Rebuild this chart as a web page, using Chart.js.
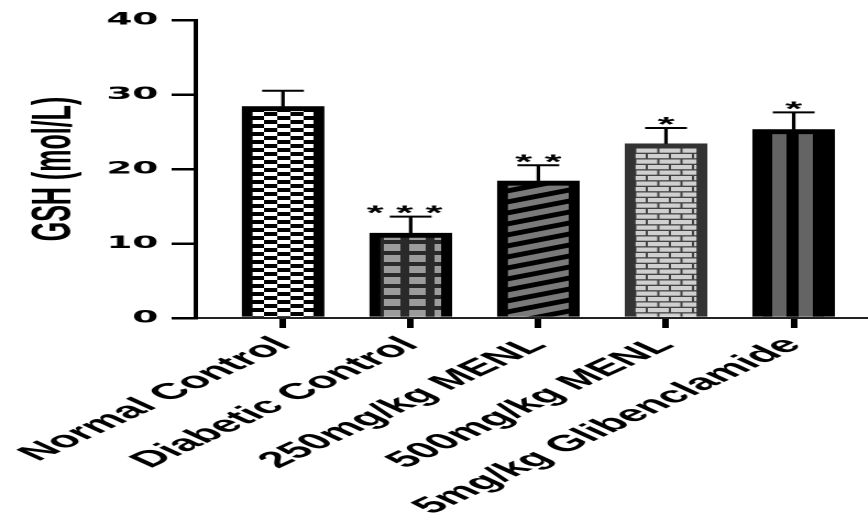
<!DOCTYPE html>
<html>
<head>
<meta charset="utf-8">
<script src="https://cdn.jsdelivr.net/npm/chart.js@4.4.1/dist/chart.umd.min.js"></script>
<style>
  html, body { margin: 0; padding: 0; background: #fff; overflow: hidden; }
  /* plot is laid out narrow, then widened */
  #wrap { width: 395px; height: 520px; transform: scaleX(2.2); transform-origin: 0 0; }
</style>
</head>
<body>
<div id="wrap"><canvas id="gsh"></canvas></div>
<script>
const groups = ['Normal Control', 'Diabetic Control', '250mg/kg MENL', '500mg/kg MENL', '5mg/kg Glibenclamide']
const means = [28.4, 11.4, 18.4, 23.4, 25.3]
const errors = [2.1, 2.2, 2.1, 2.1, 2.3]
const stars = ['', '* * * ', '* *', '*', '*']
const yTicks = [0, 10, 20, 30, 40]

const R = 2

function makePattern(w, h, draw) {
  const c = document.createElement('canvas')
  c.width = Math.round(w * R)
  c.height = Math.round(h * R)
  const g = c.getContext('2d')
  g.scale(R, R)
  draw(g, w, h)
  const p = g.createPattern(c, 'repeat')
  p.setTransform(new DOMMatrix([1 / R, 0, 0, 1 / R, 0, 0]))
  return p
}

// checkerboard
const checker = makePattern(12, 8, (g, w, h) => {
  g.fillStyle = '#fff'
  g.fillRect(0, 0, w, h)
  g.fillStyle = '#000'
  g.fillRect(0, 0, 6, 4)
  g.fillRect(6, 4, 6, 4)
})

// gray blocks on dark
const blocks = makePattern(11.5, 11, (g, w, h) => {
  g.fillStyle = '#2a2a2a'
  g.fillRect(0, 0, w, h)
  g.fillStyle = '#9c9c9c'
  g.fillRect(2, 2, 7.5, 7)
})

// rising diagonal stripes
const diagonal = makePattern(26, 11, (g, w, h) => {
  g.fillStyle = '#7a7a7a'
  g.fillRect(0, 0, w, h)
  g.fillStyle = '#000'
  for (let k = -1; k <= 1; k++) {
    g.beginPath()
    g.moveTo(0, h + k * h)
    g.lineTo(w, k * h)
    g.lineTo(w, 5 + k * h)
    g.lineTo(0, h + 5 + k * h)
    g.closePath()
    g.fill()
  }
})

// brick wall
const bricks = makePattern(21, 11, (g, w, h) => {
  g.fillStyle = '#444'
  g.fillRect(0, 0, w, h)
  g.fillStyle = '#d0d0d0'
  g.fillRect(0.5, 0, 9.5, 4.2)
  g.fillRect(11, 0, 9.5, 4.2)
  g.fillRect(-4.75, 5.5, 9.5, 4.2)
  g.fillRect(5.75, 5.5, 9.5, 4.2)
  g.fillRect(16.25, 5.5, 9.5, 4.2)
})

// vertical stripes
const vertical = makePattern(12, 4, (g, w, h) => {
  g.fillStyle = '#000'
  g.fillRect(0, 0, w, h)
  g.fillStyle = '#646464'
  g.fillRect(3, 0, 6.5, h)
})

const fills = [checker, blocks, diagonal, bricks, vertical]
const edges = ['#000', '#000', '#000', '#333', '#000']

const errorBars = {
  id: 'errorBars',
  afterDatasetsDraw(chart) {
    const ctx = chart.ctx
    const y = chart.scales.y
    const bars = chart.getDatasetMeta(0).data
    ctx.save()
    ctx.strokeStyle = '#000'
    ctx.fillStyle = '#000'
    bars.forEach((bar, i) => {
      const top = y.getPixelForValue(means[i] + errors[i])
      const base = y.getPixelForValue(means[i])
      ctx.lineWidth = 1.6
      ctx.beginPath()
      ctx.moveTo(bar.x, base)
      ctx.lineTo(bar.x, top)
      ctx.stroke()
      ctx.lineWidth = 2
      ctx.beginPath()
      ctx.moveTo(bar.x - 9.5, top)
      ctx.lineTo(bar.x + 9.5, top)
      ctx.stroke()
      if (stars[i]) {
        ctx.font = 'bold 20px "Liberation Sans", Arial, sans-serif'
        ctx.textAlign = 'center'
        ctx.textBaseline = 'alphabetic'
        ctx.fillText(stars[i], bar.x, top + 3)
      }
    })
    ctx.restore()
  }
}

new Chart(document.getElementById('gsh'), {
  type: 'bar',
  data: {
    datasets: [{
      data: groups.map((g, i) => ({ x: i, y: means[i] })),
      backgroundColor: fills,
      borderColor: edges,
      borderWidth: 5,
      borderSkipped: 'start',
      barThickness: 37
    }]
  },
  options: {
    responsive: true,
    maintainAspectRatio: false,
    devicePixelRatio: 2,
    animation: false,
    layout: { padding: { top: 20, right: 0, bottom: 0, left: 0 } },
    plugins: { legend: { display: false }, tooltip: { enabled: false } },
    scales: {
      x: {
        type: 'linear',
        offset: false,
        min: -0.683,
        max: 4.59,
        afterBuildTicks: (s) => { s.ticks = groups.map((g, i) => ({ value: i })) },
        afterFit: (s) => { s.height = 202; s.paddingLeft = 0; s.paddingRight = 0 },
        grid: { offset: false, drawOnChartArea: false, tickLength: 10, lineWidth: 3, color: '#000' },
        border: { color: '#222', width: 2 },
        ticks: {
          autoSkip: false,
          minRotation: 45,
          maxRotation: 45,
          padding: 4,
          color: '#000',
          font: { family: '"Liberation Sans", Arial, sans-serif', size: 22.5, weight: 'bold' },
          callback: (v) => groups[v]
        }
      },
      y: {
        min: 0,
        max: 40,
        afterBuildTicks: (s) => { s.ticks = yTicks.map((v) => ({ value: v })) },
        afterFit: (s) => { s.width = 89 },
        grid: { drawOnChartArea: false, tickLength: 11, lineWidth: 2.5, color: '#000' },
        border: { color: '#000', width: 2 },
        ticks: {
          padding: 6,
          color: '#000',
          font: { family: '"DejaVu Sans", sans-serif', size: 17, weight: 'bold' }
        },
        title: {
          display: true,
          text: 'GSH (mol/L)',
          color: '#000',
          padding: { top: 10, bottom: 0 },
          font: { family: '"Liberation Sans", Arial, sans-serif', size: 25, weight: 'bold' }
        }
      }
    }
  },
  plugins: [errorBars]
})
</script>
</body>
</html>
